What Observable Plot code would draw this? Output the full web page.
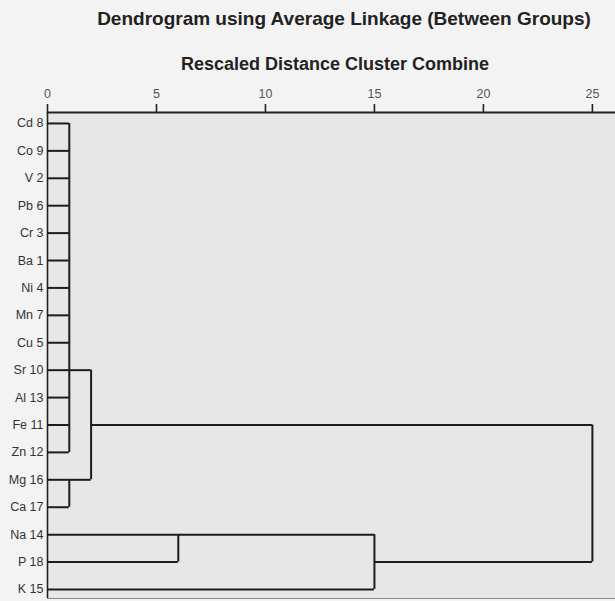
<!DOCTYPE html>
<html>
<head>
<meta charset="utf-8">
<script src="https://cdn.jsdelivr.net/npm/d3@7"></script>
<script src="https://cdn.jsdelivr.net/npm/@observablehq/plot@0.6"></script>
<style>
  html, body { margin: 0; padding: 0; background: #f3f3f3; }
  #wrap { width: 615px; font-family: "Liberation Sans", Arial, sans-serif; }
  #head { position: relative; width: 615px; height: 80px; }
  #head div { position: absolute; white-space: nowrap; transform: translate(-50%, -50%); font-weight: bold; color: #222; }
  #title { left: 344px; top: 19px; font-size: 19px; }
  #subtitle { left: 335px; top: 64px; font-size: 18px; }
  svg { display: block; }
</style>
</head>
<body>
<div id="wrap">
  <div id="head">
    <div id="title">Dendrogram using Average Linkage (Between Groups)</div>
    <div id="subtitle">Rescaled Distance Cluster Combine</div>
  </div>
  <div id="chart"></div>
</div>
<script>
// Leaf labels, top to bottom
const labels = ["Cd 8","Co 9","V 2","Pb 6","Cr 3","Ba 1","Ni 4","Mn 7","Cu 5","Sr 10","Al 13","Fe 11","Zn 12","Mg 16","Ca 17","Na 14","P 18","K 15"];
// Tick values of the rescaled distance axis
const distanceTicks = [0, 5, 10, 15, 20, 25];
// Merges: name, children (leaf "L<i>" or merge name), rescaled distance, row where the merged cluster line continues
const mergeNames    = ["A", "B", "AB", "C", "CK", "ALL"];
const mergeChildren = [
  ["L0","L1","L2","L3","L4","L5","L6","L7","L8","L9","L10","L11","L12"],
  ["L13","L14"],
  ["A","B"],
  ["L15","L16"],
  ["C","L17"],
  ["AB","CK"]
];
const mergeDistance = [1, 1, 2, 6, 15, 25];
const mergeRow      = [9, 13, 11, 15, 16, 13.5];

// Build node lookup
const nodes = new Map();
labels.forEach((l, i) => nodes.set("L" + i, {dist: 0, row: i}));
mergeNames.forEach((n, i) => nodes.set(n, {dist: mergeDistance[i], row: mergeRow[i]}));

const hsegs = [];
const vsegs = [];
mergeNames.forEach((n, i) => {
  const kids = mergeChildren[i].map(k => nodes.get(k));
  kids.forEach(k => hsegs.push({y: k.row, x1: k.dist, x2: mergeDistance[i]}));
  vsegs.push({x: mergeDistance[i], y1: d3.min(kids, k => k.row), y2: d3.max(kids, k => k.row)});
});

const chart = Plot.plot({
  width: 615,
  height: 521,
  marginTop: 32,
  marginBottom: 3,
  marginLeft: 47,
  marginRight: 0,
  style: {background: "transparent", fontFamily: "Liberation Sans, Arial, sans-serif"},
  x: {domain: [0, 26.06]},
  y: {domain: [-0.4, 17.33], reverse: true},
  marks: [
    Plot.frame({fill: "#e7e7e7", stroke: null}),
    Plot.ruleY([17.33], {stroke: "#8a8a8a", strokeWidth: 1.2}),
    Plot.ruleX([0], {stroke: "#222", strokeWidth: 1.6}),
    Plot.ruleY([-0.4], {stroke: "#222", strokeWidth: 2}),
    Plot.axisX({anchor: "top", ticks: distanceTicks, tickSize: 9, tickPadding: 6, fontSize: 12.5, color: "#555", stroke: "#222", strokeWidth: 1.6, label: null}),
    Plot.axisY({anchor: "left", ticks: d3.range(labels.length), tickFormat: i => labels[i], tickSize: 0, tickPadding: 4, fontSize: 12.5, color: "#333", label: null}),
    Plot.ruleY(hsegs, {y: "y", x1: "x1", x2: "x2", stroke: "#1c1c1c", strokeWidth: 2}),
    Plot.ruleX(vsegs, {x: "x", y1: "y1", y2: "y2", stroke: "#1c1c1c", strokeWidth: 2})
  ]
});
document.getElementById("chart").appendChild(chart);
</script>
</body>
</html>
